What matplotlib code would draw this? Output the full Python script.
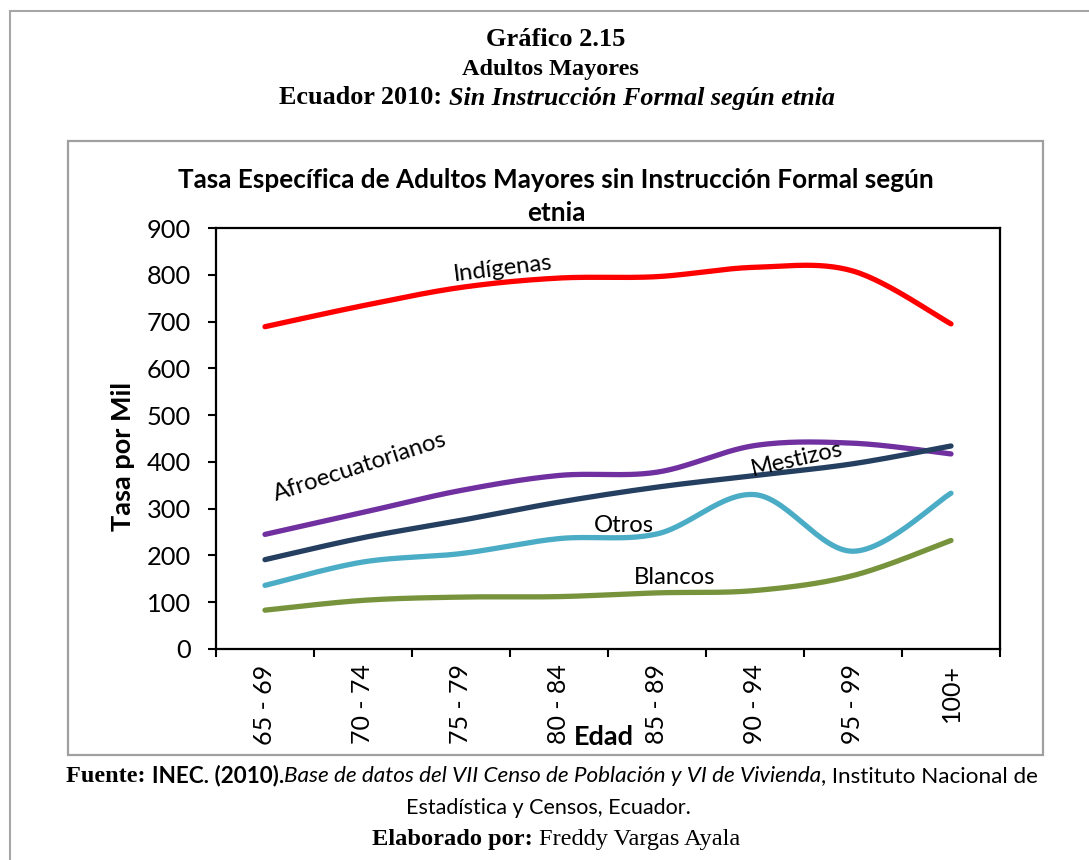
import numpy as np
import matplotlib
matplotlib.use("Agg")
from matplotlib import pyplot as plt
from matplotlib.patches import Rectangle
from matplotlib.lines import Line2D

# datos (tasa por mil)
edades = ["65 - 69", "70 - 74", "75 - 79", "80 - 84", "85 - 89", "90 - 94", "95 - 99", "100+"]
indigenas = [689, 734, 773, 793, 796, 816, 808, 695]
afroecuatorianos = [245, 292, 339, 371, 378, 435, 440, 417]
mestizos = [191, 238, 275, 314, 346, 371, 396, 434]
otros = [136, 186, 204, 236, 246, 330, 209, 333]
blancos = [83, 104, 111, 112, 120, 125, 157, 232]

SANS = "Lato"
SERIF = "Liberation Serif"
W, H = 1089, 860


def suavizar(xs, ys, n=30):
    # curva suavizada tipo Excel (Catmull-Rom / Bezier)
    pts = np.column_stack([xs, ys]).astype(float)
    ext = np.vstack([pts[0], pts, pts[-1]])
    out = []
    for i in range(len(pts) - 1):
        p0, p1, p2, p3 = ext[i], ext[i + 1], ext[i + 2], ext[i + 3]
        c1 = p1 + (p2 - p0) / 6
        c2 = p2 - (p3 - p1) / 6
        t = np.linspace(0, 1, n)[:, None]
        seg = ((1 - t) ** 3) * p1 + 3 * ((1 - t) ** 2) * t * c1 + 3 * (1 - t) * t ** 2 * c2 + t ** 3 * p2
        out.append(seg if i == 0 else seg[1:])
    out = np.vstack(out)
    return out[:, 0], out[:, 1]


def fila(fig, piezas, y_px, centro=556):
    # coloca trozos de texto con distinto estilo en una misma linea
    objs = [fig.text(0, 1 - y_px / H, s, va="center", ha="left", **kw) for s, kw in piezas]
    fig.canvas.draw()
    r = fig.canvas.get_renderer()
    anchos = [o.get_window_extent(r).width for o in objs]
    x = centro - sum(anchos) / 2
    for o, a in zip(objs, anchos):
        o.set_x(x / W)
        x += a


figure = plt.figure(figsize=(W / 100, H / 100), dpi=100)

# marco exterior
figure.add_artist(Line2D([10 / W, 10 / W], [0, 1 - 11 / H], transform=figure.transFigure, color="#A6A6A6", lw=1.5))
figure.add_artist(Line2D([10 / W, 1], [1 - 11 / H, 1 - 11 / H], transform=figure.transFigure, color="#A6A6A6", lw=1.5))
# marco del grafico
figure.add_artist(Rectangle((68 / W, 1 - 755 / H), (1043 - 68) / W, (755 - 141) / H,
                            transform=figure.transFigure, fill=False, edgecolor="#A0A0A0", lw=1.6))

fila(figure, [("Gráfico 2.15", dict(family=SERIF, weight="bold", fontsize=19))], 40)
fila(figure, [("Adultos Mayores", dict(family=SERIF, weight="bold", fontsize=17.5))], 69, 550)
fila(figure, [("Ecuador 2010: ", dict(family=SERIF, weight="bold", fontsize=18.8)),
              ("Sin Instrucción Formal según etnia", dict(family=SERIF, weight="bold", style="italic", fontsize=18.8))], 98, 557)

figure.text(556 / W, 1 - 180 / H, "Tasa Específica de Adultos Mayores sin Instrucción Formal según",
            ha="center", va="center", family=SANS, weight="bold", fontsize=18.8)
figure.text(556 / W, 1 - 213 / H, "etnia", ha="center", va="center", family=SANS, weight="bold", fontsize=18.8)

ax = figure.add_axes([216 / W, 1 - 649 / H, (1000 - 216) / W, (649 - 228) / H])
x = np.arange(len(edades))
series = [
    (indigenas, "#FF0000"),
    (afroecuatorianos, "#7030A0"),
    (mestizos, "#243F60"),
    (otros, "#4BACC6"),
    (blancos, "#77933C"),
]
for valores, color in series:
    sx, sy = suavizar(x, valores)
    ax.plot(sx, sy, color=color, lw=3.8, solid_capstyle="round")

etiquetas = [
    ("Indígenas", 2.43, 814, 7),
    ("Afroecuatorianos", 0.97, 389, 18),
    ("Mestizos", 5.43, 406, 13),
    ("Otros", 3.66, 263, 0),
    ("Blancos", 4.18, 152, 0),
]
for texto, ex, ey, rot in etiquetas:
    ax.text(ex, ey, texto, ha="center", va="center", rotation=rot, rotation_mode="anchor",
            family=SANS, fontsize=17.2)

ax.set_xlim(-0.5, len(edades) - 0.5)
ax.set_ylim(0, 900)
ax.set_yticks(range(0, 901, 100))
ax.set_yticklabels([str(v) for v in range(0, 901, 100)], family=SANS, fontsize=18.3)
ax.set_xticks(x)
ax.set_xticklabels(edades, rotation=90, family=SANS, fontsize=18)
ax.set_xticks(np.arange(-0.5, len(edades), 1), minor=True)
ax.tick_params(axis="x", which="major", length=0, pad=11)
ax.tick_params(axis="x", which="minor", length=6, width=1.5, direction="out")
ax.tick_params(axis="y", length=6, width=1.5, direction="out", pad=12)
for s in ax.spines.values():
    s.set_linewidth(1.6)
    s.set_color("black")

figure.text(123 / W, 1 - 456 / H, "Tasa por Mil", rotation=90, ha="center", va="center",
            family=SANS, weight="bold", fontsize=19.5)
figure.text(604 / W, 1 - 737 / H, "Edad", ha="center", va="center", family=SANS, weight="bold", fontsize=19.5)

fila(figure, [("Fuente: ", dict(family=SERIF, weight="bold", fontsize=17.5)),
              ("INEC. (2010).", dict(family=SANS, weight="bold", fontsize=16.2)),
              ("Base de datos del VII Censo de Población y VI de Vivienda", dict(family=SANS, style="italic", fontsize=16.2)),
              (", Instituto Nacional de", dict(family=SANS, fontsize=16.2))], 776, 552)
fila(figure, [("Estadística y Censos, Ecuador.", dict(family=SANS, fontsize=15.5))], 808, 548)
fila(figure, [("Elaborado por: ", dict(family=SERIF, weight="bold", fontsize=17.6)),
              ("Freddy Vargas Ayala", dict(family=SERIF, fontsize=17.6))], 840, 556)

figure.savefig("out.png", dpi=100)
